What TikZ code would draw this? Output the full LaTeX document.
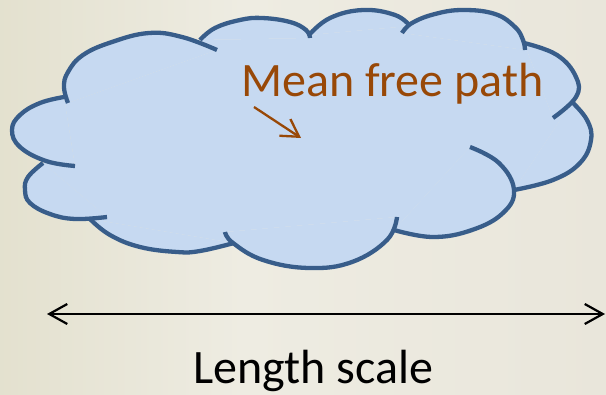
\documentclass[tikz,border=0pt]{standalone}
\usepackage{fontspec}
\setmainfont{Carlito}
\usetikzlibrary{arrows.meta}
\definecolor{cloudfill}{HTML}{C6D9F1}
\definecolor{cloudline}{HTML}{385D8A}
\definecolor{brownt}{HTML}{984807}
\definecolor{bgA}{RGB}{208,202,172}
\definecolor{bgB}{RGB}{222,219,197}
\definecolor{bgC}{RGB}{238,236,226}
\definecolor{bgD}{RGB}{234,231,220}
\definecolor{bgE}{RGB}{229,225,211}
\pgfdeclarehorizontalshading{bgshade}{100bp}{color(0bp)=(bgA); color(15bp)=(bgB); color(45bp)=(bgC); color(70bp)=(bgD); color(100bp)=(bgE)}
\newcommand\cloudlobes[1]{%
  \path[#1] plot[smooth,tension=0.7] coordinates {(68,103) (64,87) (68,72) (83,55) (112,42) (149,33) (182,37) (217,50)};
  \path[#1] plot[smooth,tension=0.7] coordinates {(200,40) (215,28) (240,20) (262,18) (290,22) (306,30) (310,38)};
  \path[#1] plot[smooth,tension=0.7] coordinates {(309,35) (330,18) (363,10) (395,15) (410,26)};
  \path[#1] plot[smooth,tension=0.7] coordinates {(402,33) (412,23) (435,14) (463,10) (495,14) (515,27) (523,40) (525,50)};
  \path[#1] plot[smooth,tension=0.7] coordinates {(524,43) (557,55) (576,77) (576,97) (553,118)};
  \path[#1] plot[smooth,tension=0.7] coordinates {(572,102) (587,120) (591,140) (580,163) (553,180) (514,190)};
  \path[#1] plot[smooth,tension=0.7] coordinates {(470,147) (499,163) (514,190) (503,213) (472,230) (433,237) (394,230)};
  \path[#1] plot[smooth,tension=0.7] coordinates {(397,217) (387,240) (352,262) (309,268) (263,260) (233,243) (225,232)};
  \path[#1] plot[smooth,tension=0.7] coordinates {(234,243) (200,251) (177,252) (140,247) (110,235) (90,219)};
  \path[#1] plot[smooth,tension=0.7] coordinates {(107,217) (75,219) (50,214) (30,203) (25,190) (28,177) (43,163)};
  \path[#1] plot[smooth,tension=0.7] coordinates {(75,166) (46,161) (20,147) (12,130) (20,115) (40,103) (64,97)};
}
\tikzset{
  scalearrow/.style={line width=2.2pt, black, {Straight Barb[length=18pt,width=20pt]}-{Straight Barb[length=18pt,width=20pt]}},
  mfparrow/.style={line width=2.3pt, brownt, -{Straight Barb[length=17pt,width=20pt]}},
  bigtext/.style={font=\fontsize{48}{58}\selectfont, inner sep=0pt}
}
\begin{document}
\begin{tikzpicture}[x=1pt,y=-1pt]
\useasboundingbox (0,0) rectangle (606,395);
\shade[shading=bgshade] (0,0) rectangle (606,395);
% cloud fill
\fill[cloudfill] (68,103) -- (217,50) -- (200,40) -- (310,38) -- (309,35) -- (410,26) -- (402,33) -- (525,50) -- (524,43) -- (553,118) -- (572,102) -- (514,190) -- (470,147) -- (394,230) -- (397,217) -- (225,232) -- (234,243) -- (90,219) -- (107,217) -- (43,163) -- (75,166) -- (64,97) -- cycle;
\cloudlobes{fill=cloudfill}
\cloudlobes{draw=cloudline, line width=4.3pt}
% text
\node[bigtext, text=brownt, anchor=base west] (mfp) at (241,97) {Mean free path};
\coordinate (mfpA) at (254,107);
\coordinate (mfpB) at (301,138);
\draw[mfparrow] (mfpA) -- (mfpB);
\coordinate (lsA) at (47,314);
\coordinate (lsB) at (605,314);
\draw[scalearrow] (lsA) -- (lsB);
\node[bigtext, text=black, anchor=base] (len) at (313,384) {Length scale};
\end{tikzpicture}
\end{document}
